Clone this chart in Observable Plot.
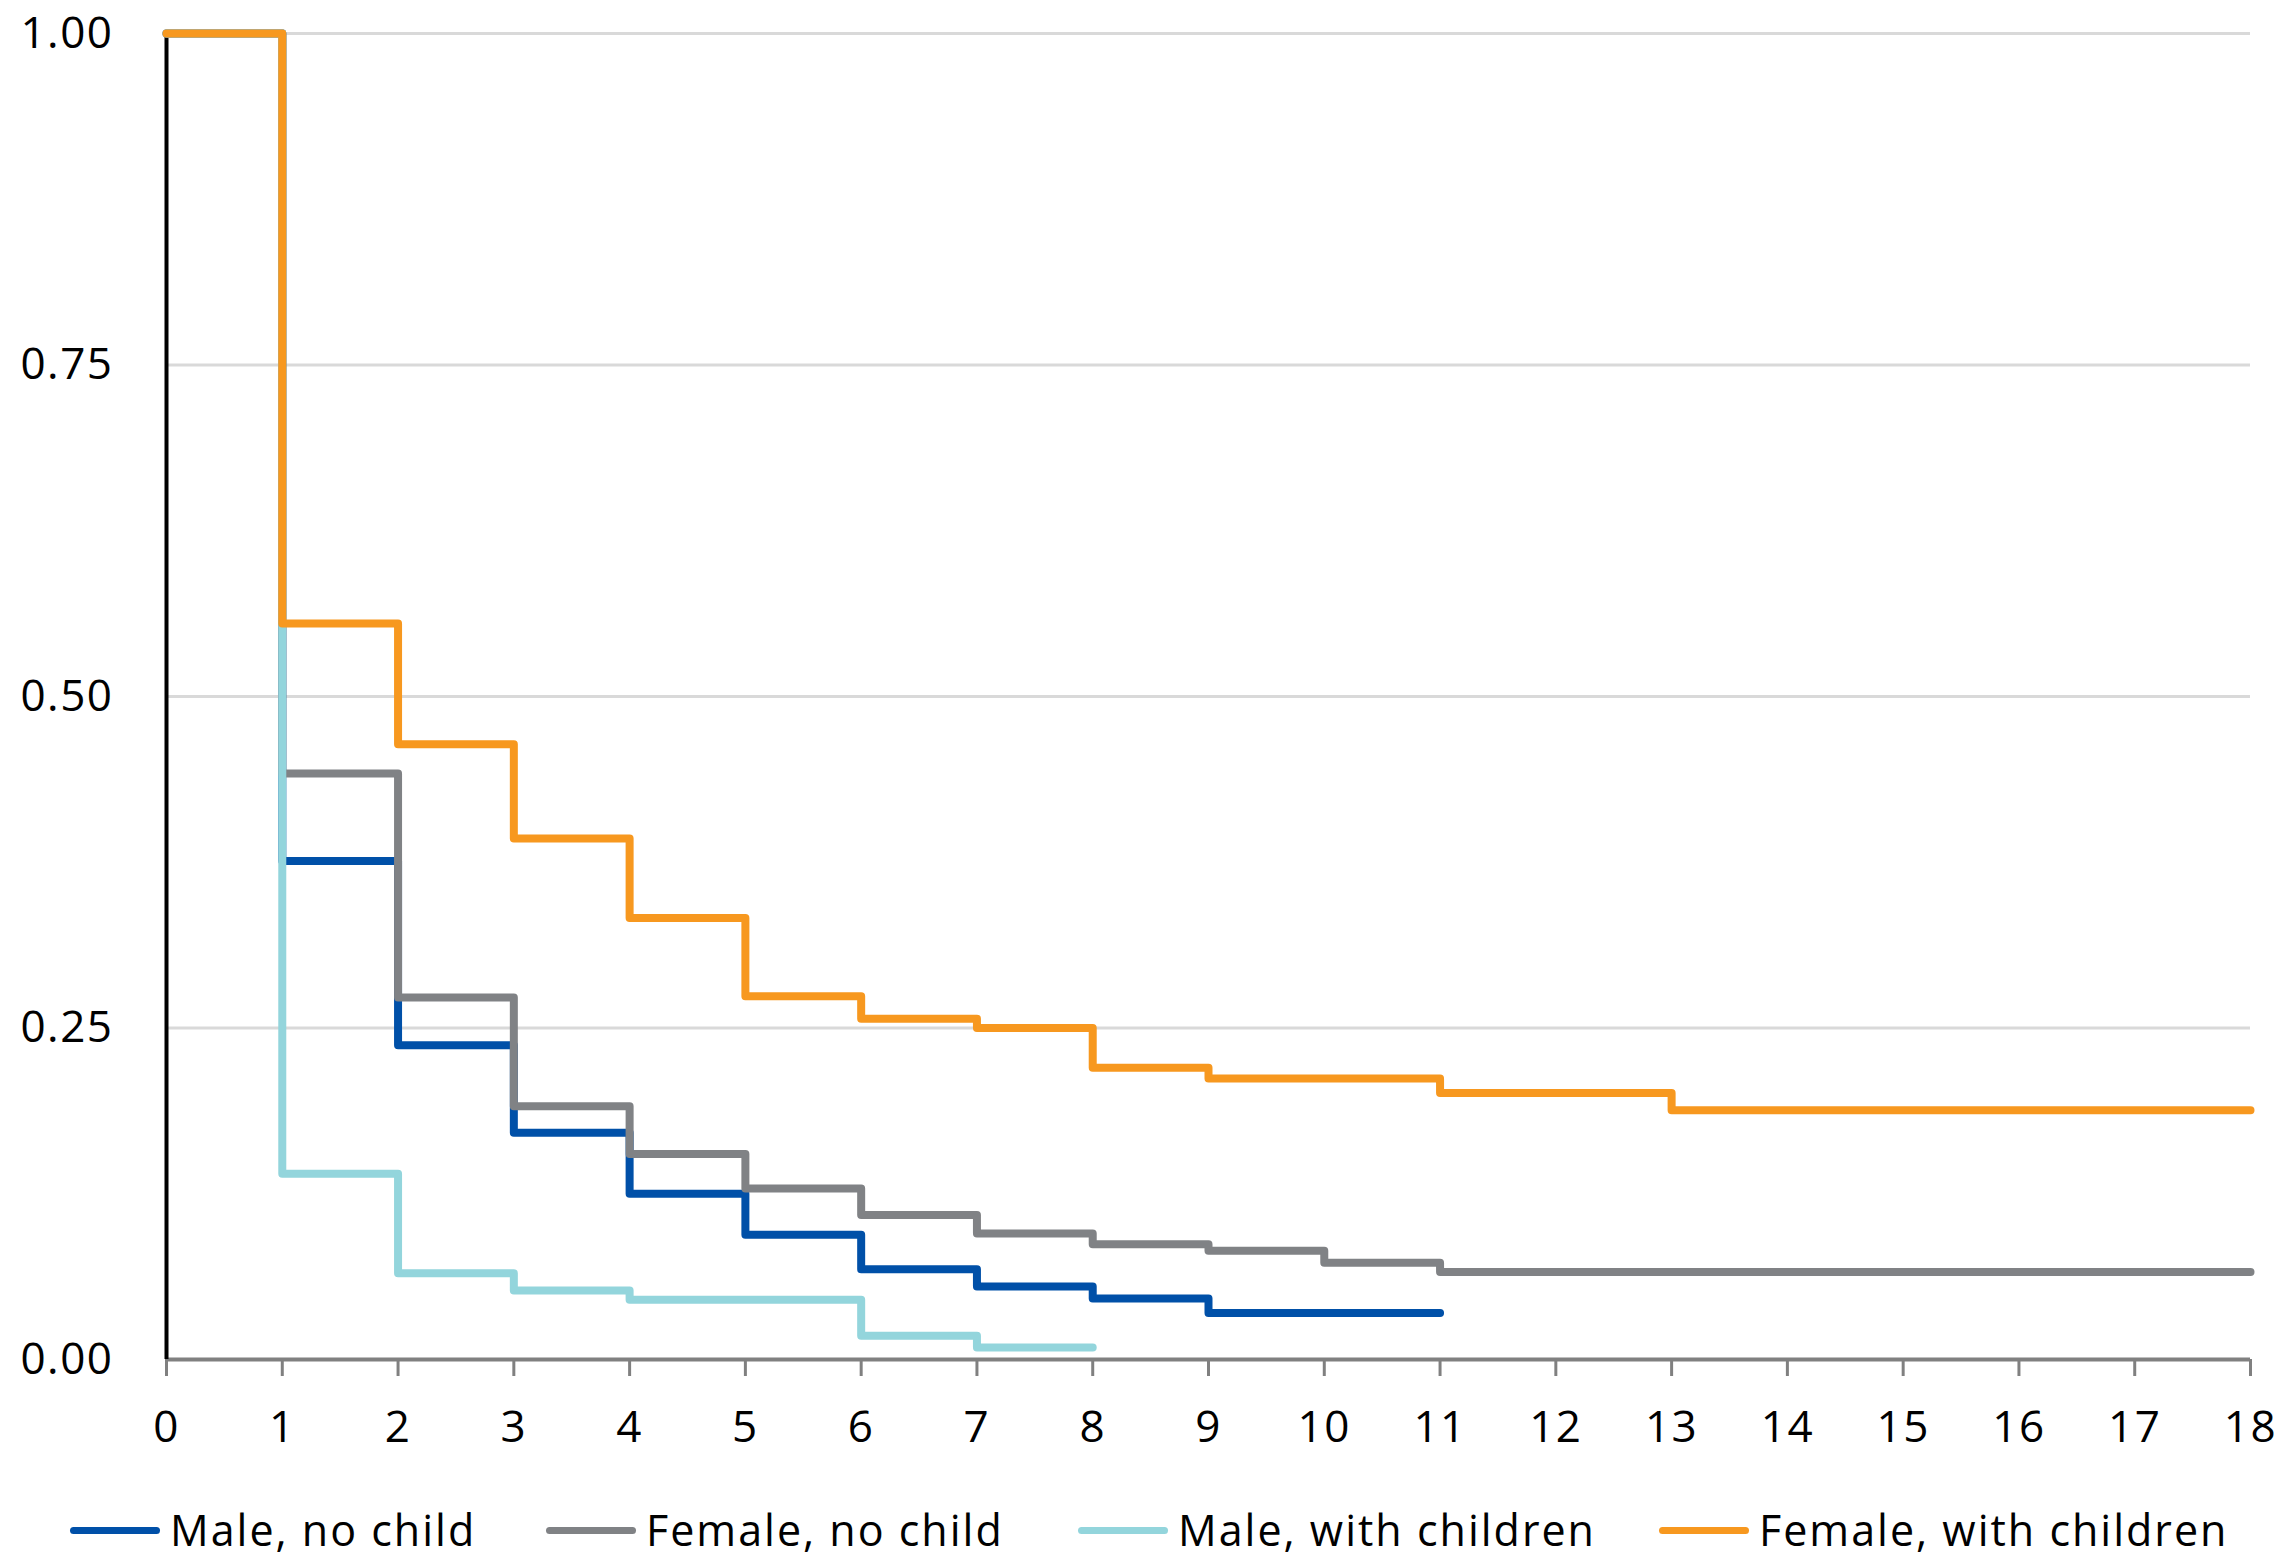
<!DOCTYPE html>
<html>
<head>
<meta charset="utf-8">
<script src="https://cdn.jsdelivr.net/npm/d3@7"></script>
<script src="https://cdn.jsdelivr.net/npm/@observablehq/plot@0.6"></script>
<style>
  html, body { margin: 0; padding: 0; background: #fff; overflow: hidden; }
  #wrap { position: relative; width: 2282px; height: 1558px; font-family: "Open Sans", sans-serif; }
  #chart svg text { letter-spacing: 1.5px; }
  #legend { position: absolute; top: 1507px; left: 0; width: 2282px; height: 46px; }
  .item { position: absolute; top: 0; display: flex; align-items: center; height: 46px; font-size: 43px; line-height: 46px; letter-spacing: 2px; color: #000; white-space: nowrap; }
  .sw { display: inline-block; width: 90px; height: 7px; border-radius: 4px; margin-right: 10px; }
</style>
</head>
<body>
<div id="wrap"><div id="chart"></div><div id="legend"></div></div>
<script>
// Series names and colours (legend order)
const seriesNames = ["Male, no child", "Female, no child", "Male, with children", "Female, with children"];
const seriesColors = ["#0050A8", "#808285", "#93D5DC", "#F7981F"];

// Step values (value holds from that year until the next listed year)
const maleNoChildYears   = [0, 1, 2, 3, 4, 5, 6, 7, 8, 9, 11];
const maleNoChildValues  = [1.00, 0.376, 0.237, 0.171, 0.125, 0.094, 0.068, 0.055, 0.046, 0.035, 0.035];

const femaleNoChildYears  = [0, 1, 2, 3, 4, 5, 6, 7, 8, 9, 10, 11, 18];
const femaleNoChildValues = [1.00, 0.442, 0.273, 0.191, 0.155, 0.129, 0.109, 0.095, 0.087, 0.082, 0.073, 0.066, 0.066];

const maleChildrenYears  = [0, 1, 2, 3, 4, 5, 6, 7, 8];
const maleChildrenValues = [1.00, 0.140, 0.065, 0.052, 0.045, 0.045, 0.018, 0.009, 0.009];

const femaleChildrenYears  = [0, 1, 2, 3, 4, 5, 6, 7, 8, 9, 11, 13, 18];
const femaleChildrenValues = [1.00, 0.555, 0.464, 0.393, 0.333, 0.274, 0.257, 0.250, 0.220, 0.212, 0.201, 0.188, 0.188];

// Tick labels
const xTicks = [0, 1, 2, 3, 4, 5, 6, 7, 8, 9, 10, 11, 12, 13, 14, 15, 16, 17, 18];
const yTicks = [0, 0.25, 0.5, 0.75, 1.0];

const seriesYears = [maleNoChildYears, femaleNoChildYears, maleChildrenYears, femaleChildrenYears];
const seriesValues = [maleNoChildValues, femaleNoChildValues, maleChildrenValues, femaleChildrenValues];

const tables = seriesNames.map((name, i) =>
  seriesYears[i].map((t, j) => ({series: name, t, v: seriesValues[i][j]}))
);

const lineMarks = tables.map((tbl, i) =>
  Plot.line(tbl, {
    x: "t", y: "v", curve: "step-after",
    stroke: seriesColors[i], strokeWidth: 8,
    strokeLinejoin: "round", strokeLinecap: "round"
  })
);

const chart = Plot.plot({
  width: 2282,
  height: 1490,
  marginLeft: 166,
  marginRight: 32,
  marginTop: 33,
  marginBottom: 131,
  x: {domain: [0, 18]},
  y: {domain: [0, 1]},
  style: {fontFamily: "'Open Sans', sans-serif", fontSize: "44px", background: "white", overflow: "visible"},
  marks: [
    Plot.gridY(yTicks.filter(d => d > 0), {stroke: "#d9d9d9", strokeOpacity: 1, strokeWidth: 3}),
    Plot.axisY(yTicks, {tickSize: 0, tickPadding: 53, tickFormat: d => d.toFixed(2), fill: "black", label: null}),
    Plot.axisX(xTicks, {tickSize: 17, tickPadding: 34, stroke: "#808080", strokeWidth: 3, fill: "black", label: null, tickFormat: d => String(d)}),
    Plot.ruleY([0], {stroke: "#808080", strokeWidth: 4}),
    Plot.ruleX([0], {stroke: "black", strokeWidth: 4}),
    ...lineMarks
  ]
});
document.getElementById("chart").appendChild(chart);

// Legend below the chart
const legendLefts = [70, 546, 1078, 1659];
const legend = document.getElementById("legend");
seriesNames.forEach((name, i) => {
  const item = document.createElement("div");
  item.className = "item";
  item.style.left = legendLefts[i] + "px";
  const sw = document.createElement("span");
  sw.className = "sw";
  sw.style.background = seriesColors[i];
  item.appendChild(sw);
  item.appendChild(document.createTextNode(name));
  legend.appendChild(item);
});
</script>
</body>
</html>
